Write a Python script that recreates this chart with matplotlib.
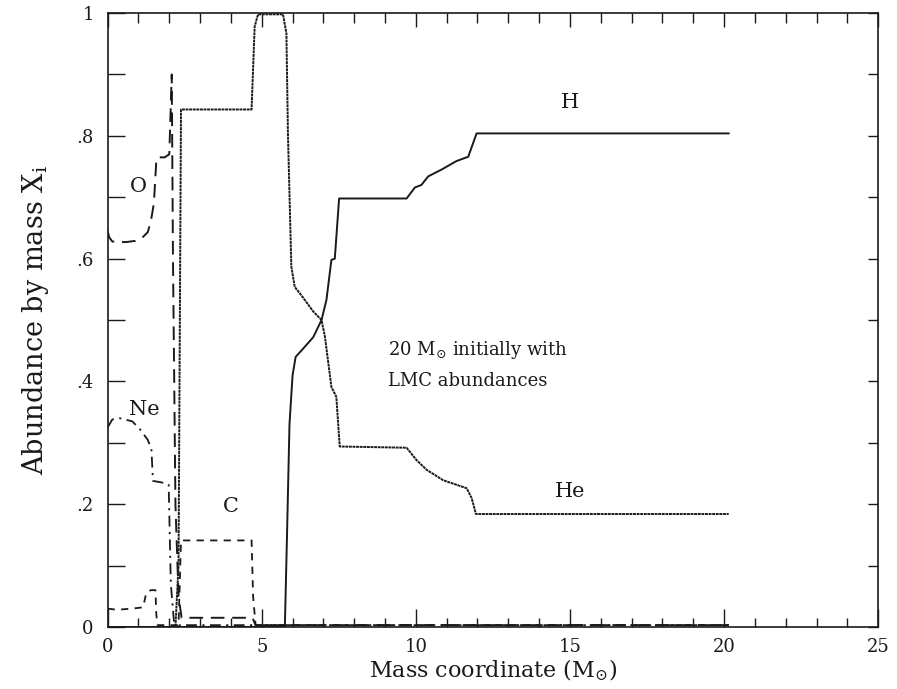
import numpy as np
import matplotlib as mpl
mpl.use('Agg')
import matplotlib.pyplot as plt
from matplotlib.ticker import MultipleLocator, FixedLocator

plt.rcParams['font.family'] = 'DejaVu Serif'
plt.rcParams['mathtext.fontset'] = 'dejavuserif'

# abundance profiles (mass coordinate in Msun)
h_x = [0.0, 5.75, 5.82, 5.9, 6.0, 6.1, 6.3, 6.67, 6.94, 7.1, 7.26, 7.37, 7.51, 9.70, 9.97, 10.18, 10.4, 10.83, 11.32, 11.70, 11.97, 20.15]
h_y = [0.0, 0.0, 0.15, 0.33, 0.41, 0.44, 0.451, 0.472, 0.50, 0.533, 0.598, 0.60, 0.698, 0.698, 0.716, 0.72, 0.734, 0.745, 0.759, 0.766, 0.804, 0.804]

he_x = [0.0, 2.2, 2.3, 2.38, 4.67, 4.77, 4.88, 5.69, 5.80, 5.85, 5.96, 6.07, 6.29, 6.67, 6.94, 7.05, 7.26, 7.42, 7.53, 9.70, 10.02, 10.35, 10.89, 11.65, 11.81, 11.95, 20.15]
he_y = [0.0, 0.0, 0.1, 0.843, 0.843, 0.978, 0.998, 0.998, 0.967, 0.804, 0.587, 0.554, 0.54, 0.514, 0.50, 0.473, 0.391, 0.375, 0.294, 0.292, 0.272, 0.256, 0.239, 0.226, 0.21, 0.184, 0.184]

o_x = [0.0, 0.05, 0.15, 0.3, 0.6, 0.9, 1.1, 1.3, 1.4, 1.5, 1.58, 1.62, 1.85, 2.0, 2.05, 2.08, 2.12, 2.2, 2.3, 2.4, 4.7, 4.8, 20.15]
o_y = [0.645, 0.635, 0.628, 0.627, 0.627, 0.629, 0.633, 0.643, 0.66, 0.69, 0.76, 0.765, 0.765, 0.77, 0.85, 0.90, 0.6, 0.2, 0.05, 0.015, 0.015, 0.003, 0.003]

ne_x = [0.0, 0.15, 0.4, 0.8, 1.05, 1.3, 1.42, 1.47, 1.8, 1.98, 2.05, 2.15, 2.3, 20.15]
ne_y = [0.325, 0.338, 0.34, 0.335, 0.322, 0.305, 0.29, 0.238, 0.235, 0.232, 0.07, 0.01, 0.003, 0.003]

c_x = [0.0, 0.3, 0.8, 1.15, 1.25, 1.4, 1.45, 1.55, 1.58, 1.62, 2.3, 2.38, 4.67, 4.72, 4.8, 20.15]
c_y = [0.03, 0.028, 0.03, 0.032, 0.055, 0.06, 0.06, 0.06, 0.02, 0.003, 0.003, 0.141, 0.141, 0.05, 0.003, 0.003]

xticks = [0, 5, 10, 15, 20, 25]
yticks = [0, 0.2, 0.4, 0.6, 0.8, 1.0]
ytick_labels = ['0', '.2', '.4', '.6', '.8', '1']

fig = plt.figure(figsize=(8.97, 6.89), dpi=100)
ax = fig.add_axes([0.120, 0.090, 0.859, 0.891])

ink = '#1a1a1a'
ax.plot(h_x, h_y, color=ink, lw=1.4, ls='-')
ax.plot(he_x, he_y, color=ink, lw=1.4, ls=(0, (1.5, 0.35)))
ax.plot(o_x, o_y, color=ink, lw=1.4, ls=(0, (7, 4)))
ax.plot(ne_x, ne_y, color=ink, lw=1.3, ls=(0, (6, 3, 1.2, 3)))
ax.plot(c_x, c_y, color=ink, lw=1.3, ls=(0, (4, 3.5)))

ax.set_xlim(0, 25)
ax.set_ylim(0, 1)

# bottom / left ticks
ax.xaxis.set_major_locator(FixedLocator(xticks))
ax.xaxis.set_minor_locator(MultipleLocator(1))
ax.yaxis.set_major_locator(FixedLocator(yticks))
ax.yaxis.set_minor_locator(MultipleLocator(0.1))
ax.set_yticklabels(ytick_labels)
ax.tick_params(axis='x', which='major', direction='in', length=13, width=1, labelsize=13, pad=8, colors=ink)
ax.tick_params(axis='x', which='minor', direction='in', length=6.5, width=1, colors=ink)
ax.tick_params(axis='y', which='both', direction='in', length=12, width=1, labelsize=13, pad=10, colors=ink)

# top / right ticks, shorter
top = ax.secondary_xaxis('top')
top.xaxis.set_major_locator(FixedLocator(xticks))
top.xaxis.set_minor_locator(MultipleLocator(1))
top.tick_params(which='major', direction='in', length=10, width=1, labeltop=False, colors=ink)
top.tick_params(which='minor', direction='in', length=7, width=1, colors=ink)
right = ax.secondary_yaxis('right')
right.yaxis.set_major_locator(FixedLocator(yticks))
right.yaxis.set_minor_locator(MultipleLocator(0.1))
right.tick_params(which='both', direction='in', length=7, width=1, labelright=False, colors=ink)

for s in ax.spines.values():
    s.set_linewidth(1.2)
    s.set_color(ink)
for s in list(top.spines.values()) + list(right.spines.values()):
    s.set_visible(False)

ax.set_xlabel(r'Mass coordinate (M$_{\odot}$)', fontsize=16, color=ink, labelpad=1)
ax.set_ylabel(r'Abundance by mass X$_{\rm i}$', fontsize=19.5, color=ink, labelpad=18)

lab = dict(fontsize=15, color=ink, ha='center', va='center')
ax.text(15.0, 0.855, 'H', **lab)
ax.text(15.0, 0.22, 'He', **lab)
ax.text(1.0, 0.718, 'O', **lab)
ax.text(1.2, 0.355, 'Ne', **lab)
ax.text(4.0, 0.197, 'C', **lab)
ax.text(9.1, 0.452, r'20 M$_{\odot}$ initially with', fontsize=13, color=ink, ha='left', va='center')
ax.text(9.1, 0.40, 'LMC abundances', fontsize=13, color=ink, ha='left', va='center')

plt.savefig('out.png', dpi=100)
